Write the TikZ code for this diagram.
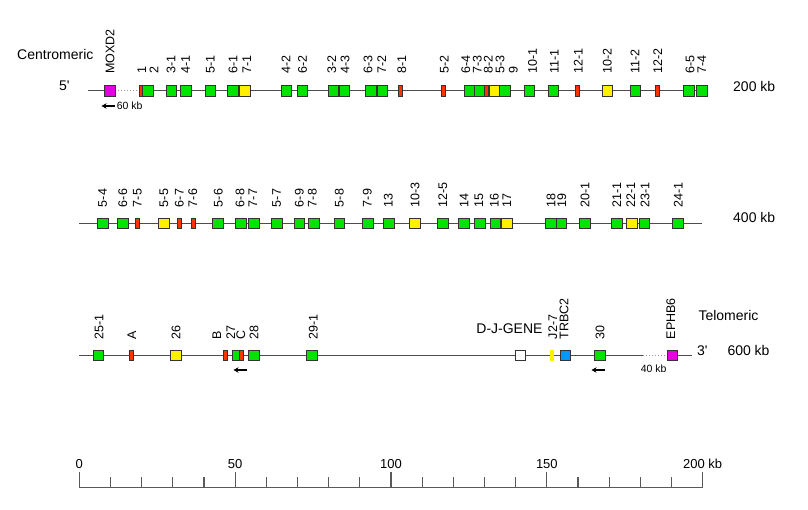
\documentclass[tikz,border=0pt]{standalone}
\usepackage{fontspec}
\setmainfont{Liberation Sans}
\usetikzlibrary{arrows.meta}
\definecolor{genegreen}{RGB}{0,228,0}
\definecolor{pseudored}{RGB}{255,51,0}
\definecolor{orfyellow}{RGB}{255,240,0}
\definecolor{flankmagenta}{RGB}{230,0,230}
\definecolor{trbcblue}{RGB}{0,153,255}
\tikzset{
	gene/.style={draw=black!80, line width=0.8pt, fill=genegreen, minimum width=10.5pt, minimum height=10.5pt, inner sep=0pt},
	orf/.style={gene, fill=orfyellow},
	pseudo/.style={gene, fill=pseudored, minimum width=4pt},
	flank/.style={gene, fill=flankmagenta},
	trbc/.style={gene, fill=trbcblue},
	jseg/.style={gene, draw=none, fill=orfyellow, minimum width=4.5pt, minimum height=11pt},
	dj/.style={gene, fill=white},
	glabel/.style={rotate=90, anchor=west, inner sep=0pt, font=\fontsize{12.5}{14}\selectfont},
	endlabel/.style={anchor=base west, inner sep=0pt, font=\fontsize{14}{16}\selectfont},
	kblabel/.style={anchor=west, inner sep=0pt, font=\fontsize{10.5}{12}\selectfont},
	backbone/.style={draw=black!70, line width=1pt},
	dotgap/.style={draw=black!40, line width=1pt, dotted},
	revarrow/.style={-{Stealth[length=5pt,width=5.5pt]}, line width=1.3pt},
	scalebar/.style={draw=black!65, line width=1.2pt},
}

\begin{document}
\begin{tikzpicture}[x=1pt, y=-1pt]
		%%%%% START %%%%%
		\useasboundingbox (0,0) rectangle (808,510);
		
		% row 1
		\coordinate (r1a) at (88,91);
		\coordinate (r1b) at (109.7,91);
		\coordinate (r1c) at (115,91);
		\coordinate (r1d) at (139,91);
		\coordinate (r1e) at (707,91);
		\draw[backbone] (r1a) -- (r1b);
		\draw[dotgap] (r1c) -- (r1d);
		\draw[backbone] (r1d) -- (r1e);
		\foreach [count=\i] \x/\lx/\s/\t in {109.7/110/flank/MOXD2, 141/141.7/pseudo/1, 148/154/gene/2,
			171.5/171/gene/3-1, 186/185.5/gene/4-1, 210.5/210.5/gene/5-1, 233/233/gene/6-1, 245/246.7/orf/7-1,
			286.5/286/gene/4-2, 302.5/302.5/gene/6-2, 333.5/331.7/gene/3-2, 344.5/345/gene/4-3,
			371/368/gene/6-3, 382.5/381.7/gene/7-2, 400/401.7/pseudo/8-1, 443.3/444.3/pseudo/5-2,
			469.3/465.7/gene/6-4, 480/477.3/gene/7-3, 486.7/488.3/pseudo/8-2, 494.5/500/orf/5-3,
			505/513.3/gene/9, 529.3/532.5/gene/10-1, 553.3/554.3/gene/11-1, 577/578.3/pseudo/12-1,
			607.3/607.3/orf/10-2, 635.3/635/gene/11-2, 657/657.7/pseudo/12-2, 688.7/690/gene/6-5,
			701.7/701.7/gene/7-4}{
			\node[\s] (a\i) at (\x,91) {};
			\node[glabel] (la\i) at (\lx,74) {\t};
		}
		\node[endlabel] (cen) at (17,60) {Centromeric};
		\node[endlabel] (five) at (59,91) {5\textquotesingle};
		\node[endlabel] (kb200) at (733,91.5) {200 kb};
		\coordinate (m1a) at (115,106);
		\coordinate (m1b) at (101.5,106);
		\draw[revarrow] (m1a) -- (m1b);
		\node[kblabel] (kb60) at (116.7,106) {60 kb};
		
		% row 2
		\coordinate (r2a) at (79.3,223.3);
		\coordinate (r2b) at (702.3,223.3);
		\draw[backbone] (r2a) -- (r2b);
		\foreach [count=\i] \x/\lx/\s/\t in {102.7/102.7/gene/5-4, 122.8/122.7/gene/6-6, 137/137.3/pseudo/7-5,
			164/164/orf/5-5, 179.8/179.3/pseudo/6-7, 193.7/192.7/pseudo/7-6, 218/218.3/gene/5-6,
			240.7/240/gene/6-8, 253.7/252.7/gene/7-7, 276.7/276.7/gene/5-7, 299.3/299.3/gene/6-9,
			313.7/312.3/gene/7-8, 339.3/339.3/gene/5-8, 368/367.3/gene/7-9, 388.7/388.3/gene/13,
			414.7/415/orf/10-3, 442.7/442.7/gene/12-5, 463.7/464/gene/14, 479.7/479/gene/15,
			495.3/494.3/gene/16, 507/506.7/orf/17, 551/551/gene/18, 561.5/561.7/gene/19,
			584.7/585/gene/20-1, 616.7/616.7/gene/21-1, 631.7/630.7/orf/22-1, 644.5/645/gene/23-1,
			678/678.3/gene/24-1}{
			\node[\s] (b\i) at (\x,223.3) {};
			\node[glabel] (lb\i) at (\lx,207.3) {\t};
		}
		\node[endlabel] (kb400) at (733,222.5) {400 kb};
		
		% row 3
		\coordinate (r3a) at (79.3,355.3);
		\coordinate (r3b) at (643,355.3);
		\coordinate (r3c) at (672.2,355.3);
		\coordinate (r3d) at (692.3,355.3);
		\draw[backbone] (r3a) -- (r3b);
		\draw[dotgap] (r3b) -- (r3c);
		\draw[backbone] (r3c) -- (r3d);
		\node[dj] (djgene) at (520.5,355.3) {};
		\node[endlabel, anchor=base east] (djlabel) at (542.7,333.3) {D-J-GENE};
		\foreach [count=\i] \x/\lx/\s/\t in {98.3/99/gene/25-1, 131.3/131.7/pseudo/A, 175.7/176/orf/26,
			225/216.7/pseudo/B, 237.5/230.7/gene/27, 241.7/240.7/pseudo/C, 254/254/gene/28,
			312/313.3/gene/29-1, 552/552.7/jseg/J2-7, 565.3/564/trbc/TRBC2, 600/600/gene/30,
			672.2/670.7/flank/EPHB6}{
			\node[\s] (c\i) at (\x,355.3) {};
			\node[glabel] (lc\i) at (\lx,339.3) {\t};
		}
		\node[endlabel] (tel) at (698.3,321) {Telomeric};
		\node[endlabel] (three) at (697,355.3) {3\textquotesingle};
		\node[endlabel] (kb600) at (727.3,355.5) {600 kb};
		\coordinate (m3a) at (246.7,370);
		\coordinate (m3b) at (233.5,370);
		\draw[revarrow] (m3a) -- (m3b);
		\coordinate (m3c) at (605,370);
		\coordinate (m3d) at (591.5,370);
		\draw[revarrow] (m3c) -- (m3d);
		\node[kblabel] (kb40) at (640.7,368.3) {40 kb};
		
		% scale bar
		\coordinate (s0) at (79.3,487.7);
		\coordinate (s200) at (702.7,487.7);
		\draw[scalebar] (s0) -- (s200);
		\foreach \k in {0,...,20}
			\draw[scalebar] (79.3+\k*31.17,487.7) -- ++(0,-10.5);
		\foreach \k in {0,5,...,20}
			\draw[scalebar] (79.3+\k*31.17,487.7) -- ++(0,-16);
		\foreach \k/\t in {0/0, 5/50, 10/100, 15/150, 20/200 kb}
			\node[anchor=base, inner sep=0pt, font=\fontsize{13}{15}\selectfont] (sl\k) at (79.3+\k*31.17,468) {\t};
		
		%%%%% END %%%%%
	\end{tikzpicture}
\end{document}
